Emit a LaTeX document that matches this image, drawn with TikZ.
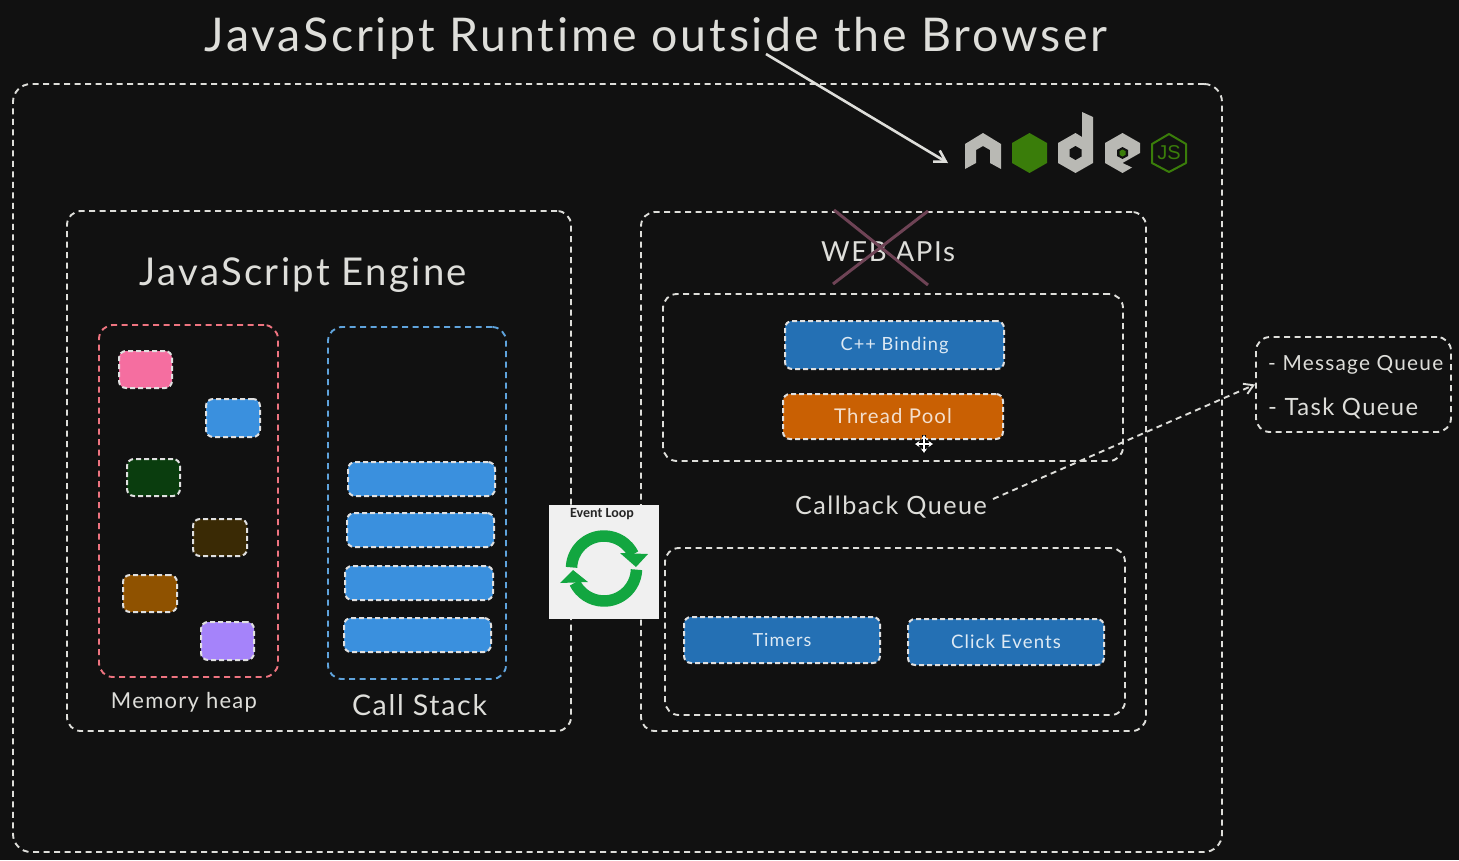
\documentclass[tikz,border=0pt]{standalone}
\usepackage{fontspec}
\usepackage{graphicx}
\setmainfont{Lato}[LetterSpace=6,Ligatures=NoCommon]
\newfontfamily\evfont{Carlito}
\newfontfamily\jsfont{Liberation Sans}
\usetikzlibrary{arrows.meta}
\definecolor{bgc}{HTML}{111111}
\definecolor{ink}{HTML}{DEDEDA}
\definecolor{redl}{HTML}{EE7480}
\definecolor{bluel}{HTML}{5FA3DC}
\definecolor{barb}{HTML}{3A90DE}
\definecolor{btnb}{HTML}{2470B4}
\definecolor{btno}{HTML}{C96003}
\definecolor{xred}{HTML}{6E4355}
\definecolor{lgray}{HTML}{B9B9B4}
\definecolor{lgreen}{HTML}{3A7D0A}
\definecolor{evgreen}{HTML}{12A640}
\definecolor{cpink}{HTML}{F56EA0}
\definecolor{cgreen}{HTML}{0A3D0E}
\definecolor{cbrown}{HTML}{3A2A05}
\definecolor{corange}{HTML}{8F5200}
\definecolor{cpurple}{HTML}{A583FA}
\newcommand{\hw}[3]{\resizebox{#1pt}{!}{\fontsize{#2}{#2}\selectfont #3}}
\tikzset{
  dbox/.style={draw=ink,line width=1.9pt,dash pattern=on 6pt off 4.5pt,rounded corners=14pt,inner sep=0pt,fill=none},
  chip/.style={draw=white!88!black,line width=2pt,dash pattern=on 5pt off 3pt,rounded corners=7pt,inner sep=0pt},
  lab/.style={text=ink,inner sep=0pt},
  btnlab/.style={text=white!85!btnb,inner sep=0pt},
  curblack/.style={black,line width=3.6pt},
  curwhite/.style={white,line width=1.6pt,{Stealth[length=4.5pt,width=6pt]}-{Stealth[length=4.5pt,width=6pt]}},
}
\begin{document}
\begin{tikzpicture}[x=1pt,y=-1pt]
\fill[bgc] (0,0) rectangle (1459,860);
\useasboundingbox (0,0) rectangle (1459,860);
% containers
\node[dbox,minimum width=1209pt,minimum height=768pt,rounded corners=18pt] (outer) at (617.5,468) {};
\node[dbox,minimum width=504pt,minimum height=520pt] (engine) at (319,471) {};
\node[dbox,minimum width=505pt,minimum height=519pt] (web) at (893.5,471.5) {};
\node[dbox,minimum width=460pt,minimum height=167pt] (topbox) at (893,377.5) {};
\node[dbox,minimum width=460pt,minimum height=167pt] (botbox) at (895,631.5) {};
\node[dbox,draw=redl,minimum width=179pt,minimum height=352pt] (heap) at (188.5,501) {};
\node[dbox,draw=bluel,minimum width=178pt,minimum height=352pt] (stack) at (417,503) {};
\node[dbox,minimum width=195pt,minimum height=95pt] (queues) at (1353.5,384.5) {};
% labels
\node[lab] (title) at (656,38) {\hw{903}{44}{JavaScript Runtime outside the Browser}};
\node[lab] (jse) at (303.5,275) {\hw{327}{34}{JavaScript Engine}};
\node[lab] (mh) at (184,702) {\hw{146}{22}{Memory heap}};
\node[lab] (cs) at (419.5,705) {\hw{135}{24}{Call Stack}};
\node[lab] (wa) at (888,252) {\hw{134}{24}{WEB APIs}};
\node[lab] (cq) at (891,507) {\hw{192}{24}{Callback Queue}};
\node[lab,anchor=west] (mq) at (1268,365) {\hw{175}{20}{- Message Queue}};
\node[lab,anchor=west] (tq) at (1268,408) {\hw{150}{20}{- Task Queue}};
% heap chips
\node[chip,fill=cpink,minimum width=53pt,minimum height=37pt] (c1) at (145.5,369.5) {};
\node[chip,fill=barb,minimum width=54pt,minimum height=38pt] (c2) at (233,418) {};
\node[chip,fill=cgreen,minimum width=53pt,minimum height=37pt] (c3) at (153.5,477.5) {};
\node[chip,fill=cbrown,minimum width=54pt,minimum height=37pt] (c4) at (220,537.5) {};
\node[chip,fill=corange,minimum width=54pt,minimum height=37pt] (c5) at (150,593.5) {};
\node[chip,fill=cpurple,minimum width=53pt,minimum height=38pt] (c6) at (227.5,641) {};
% stack bars
\node[chip,fill=barb,minimum width=147pt,minimum height=34pt] (s1) at (421.5,479) {};
\node[chip,fill=barb,minimum width=147pt,minimum height=34pt] (s2) at (420.5,530) {};
\node[chip,fill=barb,minimum width=148pt,minimum height=34pt] (s3) at (419,583) {};
\node[chip,fill=barb,minimum width=147pt,minimum height=34pt] (s4) at (417.5,635) {};
% buttons
\node[chip,fill=btnb,minimum width=219pt,minimum height=48pt,btnlab] (cpp) at (894.5,345) {\hw{108}{19}{C++ Binding}};
\node[chip,fill=btno,minimum width=220pt,minimum height=45pt,text=white!80!btno,inner sep=0pt] (tp) at (893,416.5) {\hw{118}{19}{Thread Pool}};
\node[chip,fill=btnb,minimum width=196pt,minimum height=46pt,btnlab] (tm) at (782,640) {\hw{59}{18}{Timers}};
\node[chip,fill=btnb,minimum width=196pt,minimum height=46pt,btnlab] (ce) at (1006,642) {\hw{110}{18}{Click Events}};
% cross over WEB APIs
\draw[xred,line width=3pt] (834,210) -- (928,285);
\draw[xred,line width=3pt] (928,211) -- (833,284);
% connectors
\coordinate (titleTail) at (766,54);
\coordinate (logoTip) at (948,163);
\coordinate (cqTail) at (993,499);
\draw[ink,line width=2.6pt,-{Straight Barb[length=11pt,width=13pt]}] (titleTail) -- (logoTip);
\draw[ink,line width=1.9pt,dash pattern=on 6pt off 4.5pt,-{Straight Barb[length=9pt,width=11pt]}] (cqTail) -- (queues.west);
% node logo
\fill[lgray] (965,144) -- (983,133) -- (1001,144) -- (1001,169) -- (990,163) -- (990,150) -- (983,146) -- (976,150) -- (976,163) -- (965,169) -- cycle;
\fill[lgreen] (1029.5,133) -- (1047,143) -- (1047,163) -- (1029.5,173) -- (1012,163) -- (1012,143) -- cycle;
\fill[lgray] (1058,143) -- (1075.5,133) -- (1082,137) -- (1082,112) -- (1093,117) -- (1093,163) -- (1075.5,173) -- (1058,163) -- cycle;
\fill[bgc] (1075.5,146) -- (1081.5,149.5) -- (1081.5,156.5) -- (1075.5,160) -- (1069.5,156.5) -- (1069.5,149.5) -- cycle;
\fill[lgray] (1105,143) -- (1122.5,133) -- (1140,143) -- (1140,153) -- (1122.5,163) -- (1132,167.5) -- (1122.5,173) -- (1105,163) -- cycle;
\fill[bgc] (1122.5,147) -- (1128,150) -- (1128,156) -- (1122.5,159) -- (1117,156) -- (1117,150) -- cycle;
\fill[lgreen] (1122.5,149.5) -- (1125.5,151.2) -- (1125.5,154.8) -- (1122.5,156.5) -- (1119.5,154.8) -- (1119.5,151.2) -- cycle;
\draw[lgreen,line width=2pt,line join=round] (1169,134) -- (1186,144) -- (1186,163) -- (1169,172) -- (1152,163) -- (1152,144) -- cycle;
\node[text=lgreen,inner sep=0pt] (js) at (1169,153) {\jsfont\fontsize{20}{20}\selectfont JS};
% event loop
\node[fill=white!94!black,minimum width=110pt,minimum height=114pt,inner sep=0pt] (ev) at (604,562) {};
\node[text=black!85,inner sep=0pt] (evt) at (602,514) {\evfont\bfseries\fontsize{14}{14}\selectfont Event Loop};
\coordinate (evc) at (604,568.5);
\draw[evgreen,line width=11.5pt] (evc) ++(178:32.5pt) arc[start angle=178,end angle=26,radius=32.5pt];
\draw[evgreen,line width=11.5pt] (evc) ++(-2:32.5pt) arc[start angle=-2,end angle=-154,radius=32.5pt];
\fill[evgreen] (648,554) -- (620,553) -- (636,567) -- cycle;
\fill[evgreen] (560,583) -- (588,582) -- (573,570) -- cycle;
% cursor
\draw[curblack] (924,435) -- (924,453);
\draw[curblack] (915,444) -- (933,444);
\draw[curwhite] (924,435) -- (924,453);
\draw[curwhite] (915,444) -- (933,444);
\end{tikzpicture}
\end{document}
